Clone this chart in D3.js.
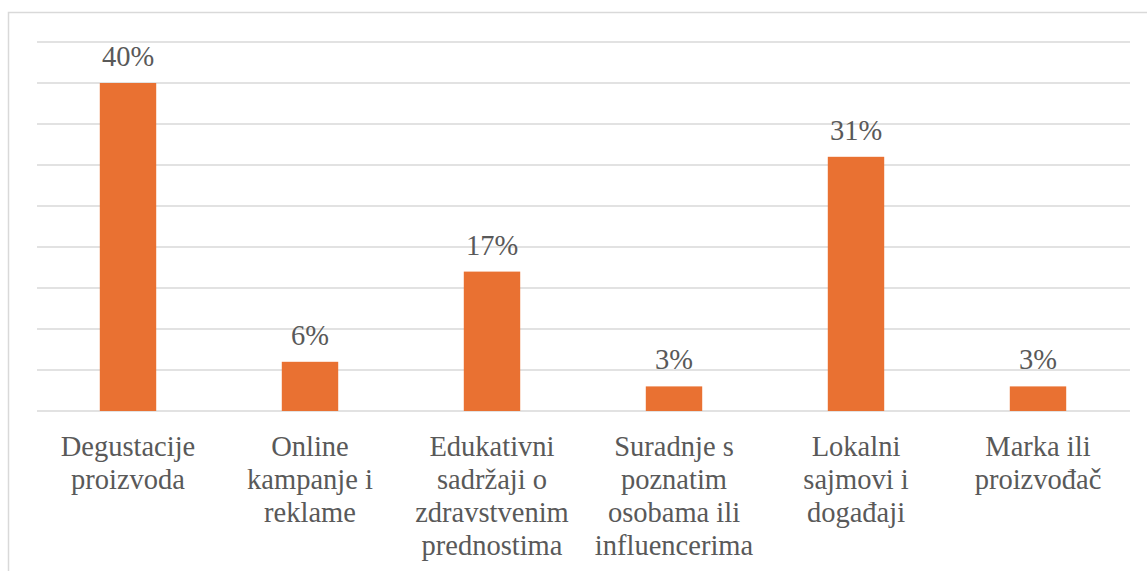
<!DOCTYPE html>
<html><head><meta charset="utf-8">
<script src="https://cdn.jsdelivr.net/npm/d3@7"></script>
<style>html,body{margin:0;padding:0;background:#fff;overflow:hidden}
svg, svg text, svg tspan{font-family:"Liberation Serif", serif !important;}</style>
</head><body>
<svg id="c" width="1147" height="571" style="font-family:'Liberation Serif', serif"></svg>
<script>
const categories = [
  ["Degustacije","proizvoda"],
  ["Online","kampanje i","reklame"],
  ["Edukativni","sadržaji o","zdravstvenim","prednostima"],
  ["Suradnje s","poznatim","osobama ili","influencerima"],
  ["Lokalni","sajmovi i","događaji"],
  ["Marka ili","proizvođač"]
];
const values = [40, 6, 17, 3, 31, 3];
const yTicks = [0,5,10,15,20,25,30,35,40,45];

const svg = d3.select("#c");
const W = 1147, H = 571;
const serif = "'Liberation Serif', serif";
svg.append("rect").attr("x",0).attr("y",0).attr("width",W).attr("height",H).attr("fill","#fff");
svg.append("rect").attr("x",8.5).attr("y",12.5).attr("width",1300).attr("height",700)
  .attr("fill","none").attr("stroke","#d9d9d9").attr("stroke-width",1.5);

const names = categories.map(c=>c.join(" "));
const x = d3.scaleBand().domain(names).range([37,1129]).paddingInner(0.69).paddingOuter(0.345);
const y = d3.scaleLinear().domain([0,45]).range([411,42]);

svg.append("g").selectAll("line").data(yTicks).join("line")
  .attr("x1",37).attr("x2",1130)
  .attr("y1",d=>y(d)).attr("y2",d=>y(d))
  .attr("stroke","#d9d9d9").attr("stroke-width",1.5);

svg.append("g").selectAll("rect").data(values).join("rect")
  .attr("x",(d,i)=>x(names[i]))
  .attr("width",x.bandwidth())
  .attr("y",d=>y(d))
  .attr("height",d=>y(0)-y(d))
  .attr("fill","#E97132");

svg.append("g").selectAll("text").data(values).join("text")
  .style("font-family",serif)
  .attr("x",(d,i)=>x(names[i])+x.bandwidth()/2)
  .attr("y",d=>y(d)-17)
  .attr("text-anchor","middle")
  .style("font-size","28.5px").attr("fill","#595959")
  .text(d=>d+"%");

const lab = svg.append("g").selectAll("text").data(categories).join("text")
  .style("font-family",serif)
  .attr("x",(d,i)=>x(names[i])+x.bandwidth()/2)
  .attr("y",456)
  .attr("text-anchor","middle")
  .style("font-size","28.5px").attr("fill","#595959");
lab.selectAll("tspan").data(d=>d).join("tspan")
  .attr("x",function(){return this.parentNode.getAttribute("x");})
  .attr("dy",(d,i)=>i===0?0:33)
  .text(d=>d);
</script>
</body></html>
